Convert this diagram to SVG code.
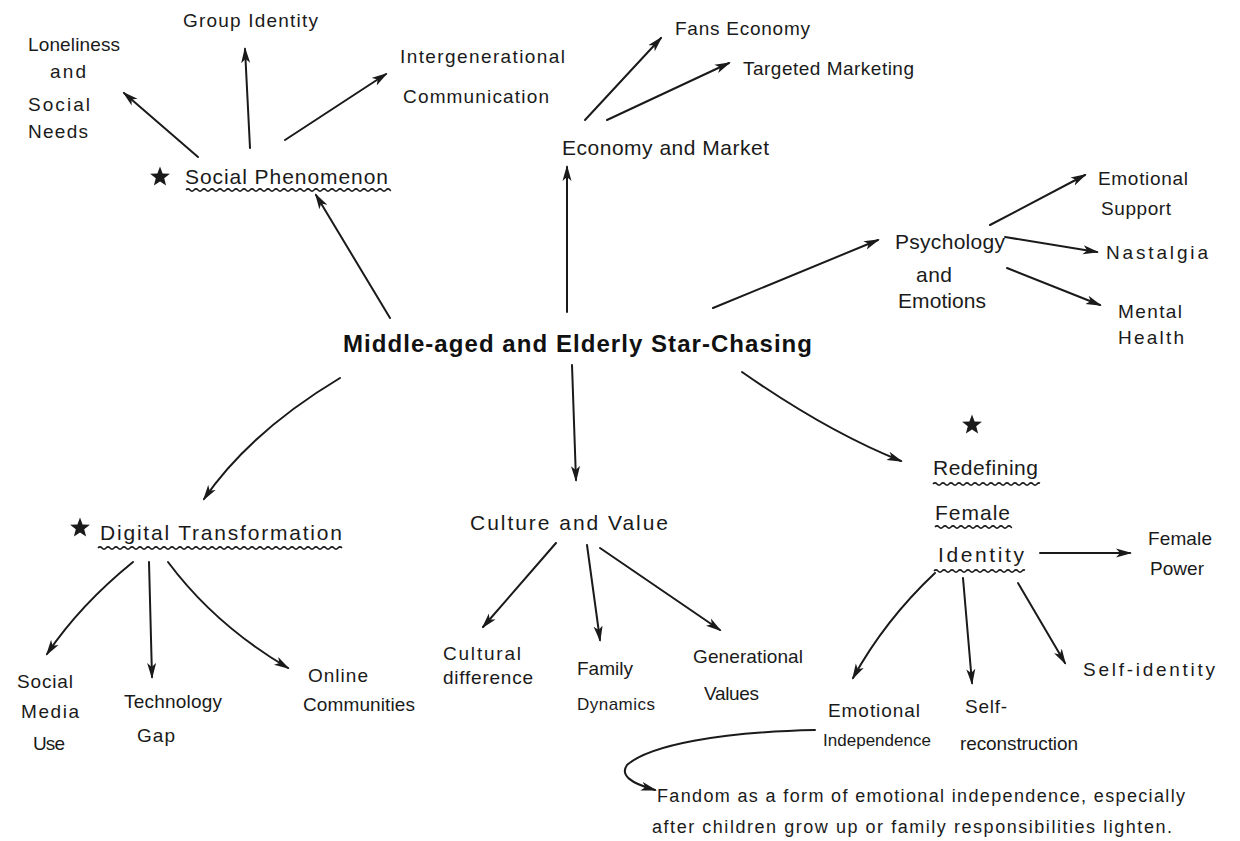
<svg xmlns="http://www.w3.org/2000/svg" xmlns:xlink="http://www.w3.org/1999/xlink" width="1240" height="841" viewBox="0 0 1240 841">
<style>
.t{font-family:"Liberation Sans",Arial,sans-serif;font-size:19px;fill:#1a1a1a}
.m{font-size:21px}
.n{font-size:18px}
.sm{font-size:17px}
.title{font-family:"Liberation Sans",Arial,sans-serif;font-size:24px;font-weight:bold;fill:#111}
.c{fill:none;stroke:#1a1a1a;stroke-width:2;stroke-linecap:round;marker-end:url(#ah)}
.w{fill:none;stroke:#1a1a1a;stroke-width:1.6}
.s{fill:#1a1a1a}
</style>
<defs>
<marker id="ah" markerUnits="userSpaceOnUse" markerWidth="16" markerHeight="10" viewBox="0 0 16 10" refX="14" refY="5" orient="auto">
<path d="M0,0.5 L16,5 L0,9.5 L4,5 Z" fill="#1a1a1a"/>
</marker>
<path id="wv" pathLength="252" d="M0,0 q2,-2.2 4,0 t4,0 t4,0 t4,0 t4,0 t4,0 t4,0 t4,0 t4,0 t4,0 t4,0 t4,0 t4,0 t4,0 t4,0 t4,0 t4,0 t4,0 t4,0 t4,0 t4,0 t4,0 t4,0 t4,0 t4,0 t4,0 t4,0 t4,0 t4,0 t4,0 t4,0 t4,0 t4,0 t4,0 t4,0 t4,0 t4,0 t4,0 t4,0 t4,0 t4,0 t4,0 t4,0 t4,0 t4,0 t4,0 t4,0 t4,0 t4,0 t4,0 t4,0 t4,0 t4,0 t4,0 t4,0 t4,0 t4,0 t4,0 t4,0 t4,0 t4,0 t4,0 t4,0"/>
<polygon id="star" points="0,-10.4 2.6,-3.58 9.89,-3.21 4.2,1.37 6.11,8.41 0,4.42 -6.11,8.41 -4.2,1.37 -9.89,-3.21 -2.6,-3.58"/>
</defs>
<rect width="1240" height="841" fill="#ffffff"/>

<g id="connectors">
<path class="c" d="M390,318 L316,195"/>
<path class="c" d="M198,157 L124,93"/>
<path class="c" d="M250,148 L245,49"/>
<path class="c" d="M285,140 L386,74"/>
<path class="c" d="M567,312 L567,167"/>
<path class="c" d="M585,120 L661,38"/>
<path class="c" d="M607,120 L729,63"/>
<path class="c" d="M713,308 L878,240"/>
<path class="c" d="M990,225 L1085,175"/>
<path class="c" d="M1005,237 L1097,252"/>
<path class="c" d="M1007,268 L1100,305"/>
<path class="c" d="M742,372 Q828,432 901,461"/>
<path class="c" d="M340,378 Q250,432 204,499"/>
<path class="c" d="M572,365 L576,480"/>
<path class="c" d="M133,562 Q80,605 47,654"/>
<path class="c" d="M149,562 L152,677"/>
<path class="c" d="M168,562 Q215,625 288,668"/>
<path class="c" d="M556,543 L483,627"/>
<path class="c" d="M587,545 L600,640"/>
<path class="c" d="M600,548 L720,630"/>
<path class="c" d="M1040,553 L1130,553"/>
<path class="c" d="M935,573 Q885,620 853,678"/>
<path class="c" d="M963,578 L972,683"/>
<path class="c" d="M1018,583 L1065,663"/>
<path class="c" d="M815,730 C720,732 650,745 627,765 C620,775 630,783 655,790"/>
</g>

<g id="center">
<text class="title" x="343" y="352" textLength="469" lengthAdjust="spacing">Middle-aged and Elderly Star-Chasing</text>
</g>

<g id="social-phenomenon">
<use href="#star" class="s" x="160" y="177"/>
<text class="t m" x="185" y="184" textLength="203" lengthAdjust="spacing">Social Phenomenon</text>
<use href="#wv" class="w" x="186" y="190" style="stroke-dasharray:205 400"/>
</g>
<g id="loneliness">
<text class="t" x="28" y="51" textLength="92" lengthAdjust="spacing">Loneliness</text>
<text class="t" x="50" y="78" textLength="36" lengthAdjust="spacing">and</text>
<text class="t" x="28" y="111" textLength="62" lengthAdjust="spacing">Social</text>
<text class="t" x="28" y="138" textLength="60" lengthAdjust="spacing">Needs</text>
</g>
<g id="group-identity">
<text class="t" x="183" y="27" textLength="135" lengthAdjust="spacing">Group Identity</text>
</g>
<g id="intergenerational">
<text class="t" x="400" y="63" textLength="165" lengthAdjust="spacing">Intergenerational</text>
<text class="t" x="403" y="103" textLength="146" lengthAdjust="spacing">Communication</text>
</g>

<g id="economy-market">
<text class="t m" x="562" y="155" textLength="207" lengthAdjust="spacing">Economy and Market</text>
</g>
<g id="fans-economy">
<text class="t" x="675" y="35" textLength="135" lengthAdjust="spacing">Fans Economy</text>
</g>
<g id="targeted-marketing">
<text class="t" x="743" y="75" textLength="171" lengthAdjust="spacing">Targeted Marketing</text>
</g>

<g id="psychology">
<text class="t m" x="895" y="249" textLength="110" lengthAdjust="spacing">Psychology</text>
<text class="t m" x="916" y="282" textLength="36" lengthAdjust="spacing">and</text>
<text class="t m" x="898" y="308" textLength="88" lengthAdjust="spacing">Emotions</text>
</g>
<g id="emotional-support">
<text class="t" x="1098" y="185" textLength="90" lengthAdjust="spacing">Emotional</text>
<text class="t" x="1101" y="215" textLength="70" lengthAdjust="spacing">Support</text>
</g>
<g id="nastalgia">
<text class="t" x="1106" y="259" textLength="102" lengthAdjust="spacing">Nastalgia</text>
</g>
<g id="mental-health">
<text class="t" x="1118" y="318" textLength="64" lengthAdjust="spacing">Mental</text>
<text class="t" x="1118" y="344" textLength="66" lengthAdjust="spacing">Health</text>
</g>

<g id="digital-transformation">
<use href="#star" class="s" x="80" y="528"/>
<text class="t m" x="100" y="540" textLength="242" lengthAdjust="spacing">Digital Transformation</text>
<use href="#wv" class="w" x="98" y="548" style="stroke-dasharray:244 400"/>
</g>
<g id="social-media">
<text class="t" x="17" y="688" textLength="56" lengthAdjust="spacing">Social</text>
<text class="t" x="21" y="718" textLength="58" lengthAdjust="spacing">Media</text>
<text class="t" x="33" y="750" textLength="32" lengthAdjust="spacing">Use</text>
</g>
<g id="technology-gap">
<text class="t" x="124" y="708" textLength="98" lengthAdjust="spacing">Technology</text>
<text class="t" x="137" y="742" textLength="38" lengthAdjust="spacing">Gap</text>
</g>
<g id="online-communities">
<text class="t" x="308" y="682" textLength="60" lengthAdjust="spacing">Online</text>
<text class="t" x="303" y="711" textLength="112" lengthAdjust="spacing">Communities</text>
</g>

<g id="culture-value">
<text class="t m" x="470" y="530" textLength="198" lengthAdjust="spacing">Culture and Value</text>
</g>
<g id="cultural-difference">
<text class="t" x="443" y="660" textLength="78" lengthAdjust="spacing">Cultural</text>
<text class="t" x="443" y="684" textLength="90" lengthAdjust="spacing">difference</text>
</g>
<g id="family-dynamics">
<text class="t" x="577" y="675" textLength="56" lengthAdjust="spacing">Family</text>
<text class="t sm" x="577" y="710" textLength="78" lengthAdjust="spacing">Dynamics</text>
</g>
<g id="generational-values">
<text class="t" x="693" y="663" textLength="110" lengthAdjust="spacing">Generational</text>
<text class="t" x="704" y="700" textLength="55" lengthAdjust="spacing">Values</text>
</g>

<g id="redefining-female-identity">
<use href="#star" class="s" x="972" y="425"/>
<text class="t m" x="933" y="475" textLength="105" lengthAdjust="spacing">Redefining</text>
<use href="#wv" class="w" x="933" y="484" style="stroke-dasharray:107 400"/>
<text class="t m" x="935" y="520" textLength="75" lengthAdjust="spacing">Female</text>
<use href="#wv" class="w" x="935" y="527" style="stroke-dasharray:77 400"/>
<text class="t m" x="938" y="562" textLength="86" lengthAdjust="spacing">Identity</text>
<use href="#wv" class="w" x="934" y="571" style="stroke-dasharray:91 400"/>
</g>
<g id="female-power">
<text class="t" x="1148" y="545" textLength="64" lengthAdjust="spacing">Female</text>
<text class="t" x="1150" y="575" textLength="54" lengthAdjust="spacing">Power</text>
</g>
<g id="self-identity">
<text class="t" x="1083" y="676" textLength="132" lengthAdjust="spacing">Self-identity</text>
</g>
<g id="emotional-independence">
<text class="t" x="828" y="717" textLength="92" lengthAdjust="spacing">Emotional</text>
<text class="t sm" x="823" y="746" textLength="108" lengthAdjust="spacing">Independence</text>
</g>
<g id="self-reconstruction">
<text class="t" x="965" y="713" textLength="42" lengthAdjust="spacing">Self-</text>
<text class="t" x="960" y="750" textLength="118" lengthAdjust="spacing">reconstruction</text>
</g>
<g id="note">
<text class="t n" x="657" y="802" textLength="528" lengthAdjust="spacing">Fandom as a form of emotional independence, especially</text>
<text class="t n" x="652" y="833" textLength="520" lengthAdjust="spacing">after children grow up or family responsibilities lighten.</text>
</g>
</svg>
